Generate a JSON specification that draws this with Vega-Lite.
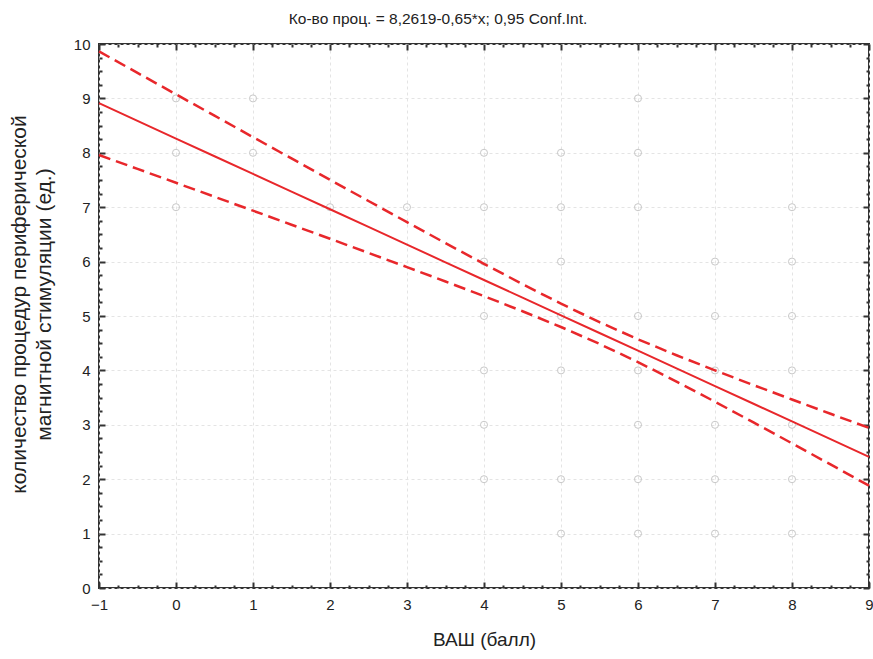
{
  "$schema": "https://vega.github.io/schema/vega-lite/v6.json",
  "width": 770,
  "height": 544,
  "autosize": {"type": "none"},
  "padding": {"left": 99, "top": 44, "right": 4, "bottom": 71},
  "background": "white",
  "config": {
    "font": "Liberation Sans",
    "view": {"stroke": "#333333", "strokeWidth": 2}
  },
  "title": {
    "text": "Ко-во проц. = 8,2619-0,65*x; 0,95 Conf.Int.",
    "fontSize": 15.5,
    "fontWeight": "normal",
    "font": "Liberation Sans",
    "color": "#222222",
    "dx": -46,
    "offset": 10
  },
  "datasets": {
    "pts": [
      {"x": 0, "y": 9}, {"x": 0, "y": 8}, {"x": 0, "y": 7},
      {"x": 1, "y": 9}, {"x": 1, "y": 8},
      {"x": 2, "y": 7},
      {"x": 3, "y": 7},
      {"x": 4, "y": 8}, {"x": 4, "y": 7}, {"x": 4, "y": 6}, {"x": 4, "y": 5}, {"x": 4, "y": 4}, {"x": 4, "y": 3}, {"x": 4, "y": 2},
      {"x": 5, "y": 8}, {"x": 5, "y": 7}, {"x": 5, "y": 6}, {"x": 5, "y": 5}, {"x": 5, "y": 4}, {"x": 5, "y": 2}, {"x": 5, "y": 1},
      {"x": 6, "y": 9}, {"x": 6, "y": 8}, {"x": 6, "y": 7}, {"x": 6, "y": 5}, {"x": 6, "y": 4}, {"x": 6, "y": 3}, {"x": 6, "y": 2}, {"x": 6, "y": 1},
      {"x": 7, "y": 6}, {"x": 7, "y": 5}, {"x": 7, "y": 4}, {"x": 7, "y": 3}, {"x": 7, "y": 2}, {"x": 7, "y": 1},
      {"x": 8, "y": 7}, {"x": 8, "y": 6}, {"x": 8, "y": 5}, {"x": 8, "y": 4}, {"x": 8, "y": 3}, {"x": 8, "y": 2}, {"x": 8, "y": 1}
    ],
    "fit": [
      {"x": -1, "fit": 8.9119, "upper": 9.864, "lower": 7.960},
      {"x": -0.5, "fit": 8.5869, "upper": 9.469, "lower": 7.704},
      {"x": 0, "fit": 8.2619, "upper": 9.075, "lower": 7.449},
      {"x": 0.5, "fit": 7.9369, "upper": 8.682, "lower": 7.192},
      {"x": 1, "fit": 7.6119, "upper": 8.288, "lower": 6.936},
      {"x": 1.5, "fit": 7.2869, "upper": 7.896, "lower": 6.678},
      {"x": 2, "fit": 6.9619, "upper": 7.504, "lower": 6.420},
      {"x": 2.5, "fit": 6.6369, "upper": 7.114, "lower": 6.160},
      {"x": 3, "fit": 6.3119, "upper": 6.725, "lower": 5.899},
      {"x": 3.5, "fit": 5.9869, "upper": 6.339, "lower": 5.634},
      {"x": 4, "fit": 5.6619, "upper": 5.959, "lower": 5.365},
      {"x": 4.5, "fit": 5.3369, "upper": 5.586, "lower": 5.088},
      {"x": 5, "fit": 5.0119, "upper": 5.226, "lower": 4.798},
      {"x": 5.5, "fit": 4.6869, "upper": 4.887, "lower": 4.487},
      {"x": 6, "fit": 4.3619, "upper": 4.572, "lower": 4.152},
      {"x": 6.5, "fit": 4.0369, "upper": 4.279, "lower": 3.795},
      {"x": 7, "fit": 3.7119, "upper": 4.000, "lower": 3.424},
      {"x": 7.5, "fit": 3.3869, "upper": 3.730, "lower": 3.044},
      {"x": 8, "fit": 3.0619, "upper": 3.465, "lower": 2.659},
      {"x": 8.5, "fit": 2.7369, "upper": 3.203, "lower": 2.271},
      {"x": 9, "fit": 2.4119, "upper": 2.943, "lower": 1.881}
    ]
  },
  "resolve": {"axis": {"x": "independent", "y": "independent"}},
  "layer": [
    {
      "data": {"name": "pts"},
      "mark": {"type": "point", "shape": "circle", "filled": false, "stroke": "#c8c8c8", "strokeWidth": 1, "size": 50, "opacity": 1},
      "encoding": {
        "x": {"field": "x", "type": "quantitative",
          "scale": {"domain": [-1, 9], "nice": false, "zero": false},
          "axis": {"orient": "bottom", "values": [-1, 0, 1, 2, 3, 4, 5, 6, 7, 8, 9], "ticks": false, "domain": false,
            "grid": true, "gridColor": "#e4e4e4", "gridDash": [3, 3], "gridWidth": 1,
            "labelFont": "Liberation Sans", "labelFontSize": 15, "labelColor": "#222222", "labelPadding": 9,
            "labelFlush": false, "labelOverlap": false,
            "title": "ВАШ (балл)", "titleFont": "Liberation Sans", "titleFontSize": 19, "titleFontWeight": "normal", "titleColor": "#222222", "titlePadding": 18}},
        "y": {"field": "y", "type": "quantitative",
          "scale": {"domain": [0, 10], "nice": false, "zero": false},
          "axis": {"orient": "left", "values": [0, 1, 2, 3, 4, 5, 6, 7, 8, 9, 10], "ticks": false, "domain": false,
            "grid": true, "gridColor": "#e4e4e4", "gridDash": [3, 3], "gridWidth": 1,
            "labelFont": "Liberation Sans", "labelFontSize": 15, "labelColor": "#222222", "labelPadding": 9,
            "labelFlush": false, "labelOverlap": false,
            "title": ["количество процедур периферической", "магнитной стимуляции (ед.)"],
            "titleFont": "Liberation Sans", "titleFontSize": 21, "titleFontWeight": "normal", "titleColor": "#222222", "titlePadding": 19, "titleLineHeight": 25, "titleY": 260}}
      }
    },
    {
      "data": {"name": "fit"},
      "mark": {"type": "line", "color": "#e8272b", "strokeWidth": 2},
      "encoding": {
        "x": {"field": "x", "type": "quantitative",
          "axis": {"orient": "bottom", "values": [-1, 0, 1, 2, 3, 4, 5, 6, 7, 8, 9], "labels": false, "grid": false, "domain": false,
            "ticks": true, "tickSize": -6, "tickColor": "#333333", "tickWidth": 2, "title": null}},
        "y": {"field": "fit", "type": "quantitative",
          "axis": {"orient": "left", "values": [0, 1, 2, 3, 4, 5, 6, 7, 8, 9, 10], "labels": false, "grid": false, "domain": false,
            "ticks": true, "tickSize": -6, "tickColor": "#333333", "tickWidth": 2, "title": null}}
      }
    },
    {
      "data": {"name": "fit"},
      "mark": {"type": "line", "color": "#e8272b", "strokeWidth": 2.5, "strokeDash": [12, 6]},
      "encoding": {
        "x": {"field": "x", "type": "quantitative",
          "axis": {"orient": "bottom", "values": [-0.75, -0.5, -0.25, 0.25, 0.5, 0.75, 1.25, 1.5, 1.75, 2.25, 2.5, 2.75, 3.25, 3.5, 3.75, 4.25, 4.5, 4.75, 5.25, 5.5, 5.75, 6.25, 6.5, 6.75, 7.25, 7.5, 7.75, 8.25, 8.5, 8.75],
            "labels": false, "grid": false, "domain": false,
            "ticks": true, "tickSize": -3, "tickColor": "#333333", "tickWidth": 2, "title": null}},
        "y": {"field": "upper", "type": "quantitative",
          "axis": {"orient": "left", "values": [0.25, 0.5, 0.75, 1.25, 1.5, 1.75, 2.25, 2.5, 2.75, 3.25, 3.5, 3.75, 4.25, 4.5, 4.75, 5.25, 5.5, 5.75, 6.25, 6.5, 6.75, 7.25, 7.5, 7.75, 8.25, 8.5, 8.75, 9.25, 9.5, 9.75],
            "labels": false, "grid": false, "domain": false,
            "ticks": true, "tickSize": -3, "tickColor": "#333333", "tickWidth": 2, "title": null}}
      }
    },
    {
      "data": {"name": "fit"},
      "mark": {"type": "line", "color": "#e8272b", "strokeWidth": 2.5, "strokeDash": [12, 6]},
      "encoding": {
        "x": {"field": "x", "type": "quantitative",
          "axis": {"orient": "top", "values": [-1, 0, 1, 2, 3, 4, 5, 6, 7, 8, 9], "labels": false, "grid": false, "domain": false,
            "ticks": true, "tickSize": -6, "tickColor": "#333333", "tickWidth": 2, "title": null}},
        "y": {"field": "lower", "type": "quantitative",
          "axis": {"orient": "right", "values": [0, 1, 2, 3, 4, 5, 6, 7, 8, 9, 10], "labels": false, "grid": false, "domain": false,
            "ticks": true, "tickSize": -6, "tickColor": "#333333", "tickWidth": 2, "title": null}}
      }
    },
    {
      "data": {"name": "fit"},
      "mark": {"type": "point", "opacity": 0},
      "encoding": {
        "x": {"field": "x", "type": "quantitative",
          "axis": {"orient": "top", "values": [-0.75, -0.5, -0.25, 0.25, 0.5, 0.75, 1.25, 1.5, 1.75, 2.25, 2.5, 2.75, 3.25, 3.5, 3.75, 4.25, 4.5, 4.75, 5.25, 5.5, 5.75, 6.25, 6.5, 6.75, 7.25, 7.5, 7.75, 8.25, 8.5, 8.75],
            "labels": false, "grid": false, "domain": false,
            "ticks": true, "tickSize": -3, "tickColor": "#333333", "tickWidth": 2, "title": null}},
        "y": {"field": "fit", "type": "quantitative",
          "axis": {"orient": "right", "values": [0.25, 0.5, 0.75, 1.25, 1.5, 1.75, 2.25, 2.5, 2.75, 3.25, 3.5, 3.75, 4.25, 4.5, 4.75, 5.25, 5.5, 5.75, 6.25, 6.5, 6.75, 7.25, 7.5, 7.75, 8.25, 8.5, 8.75, 9.25, 9.5, 9.75],
            "labels": false, "grid": false, "domain": false,
            "ticks": true, "tickSize": -3, "tickColor": "#333333", "tickWidth": 2, "title": null}}
      }
    }
  ]
}
